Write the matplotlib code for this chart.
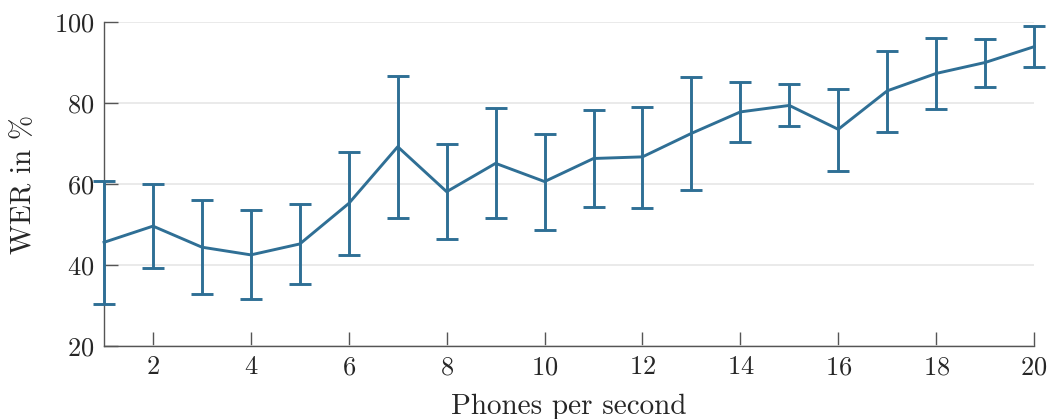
import matplotlib
matplotlib.use("Agg")
import numpy as np
import matplotlib.pyplot as plt

plt.rcParams["font.family"] = ["cmr10", "DejaVu Serif"]
plt.rcParams["axes.formatter.use_mathtext"] = True

# WER (%) per phone rate, with lower/upper ends of the error bars
phones = [1, 2, 3, 4, 5, 6, 7, 8, 9, 10, 11, 12, 13, 14, 15, 16, 17, 18, 19, 20]
wer_mean = [45.6, 49.6, 44.4, 42.5, 45.2, 55.2, 69.2, 58.1, 65.1, 60.6,
            66.3, 66.7, 72.5, 77.8, 79.4, 73.5, 83.0, 87.3, 90.0, 93.9]
wer_low = [30.4, 39.3, 32.8, 31.5, 35.3, 42.4, 51.6, 46.3, 51.6, 48.7,
           54.4, 54.1, 58.4, 70.4, 74.2, 63.2, 72.8, 78.4, 84.0, 88.8]
wer_high = [60.8, 60.1, 56.0, 53.7, 55.0, 67.9, 86.7, 69.8, 78.8, 72.3,
            78.3, 79.1, 86.5, 85.1, 84.7, 83.5, 92.8, 96.0, 95.7, 99.0]
xticks = [2, 4, 6, 8, 10, 12, 14, 16, 18, 20]
yticks = [20, 40, 60, 80, 100]

color = "#2f6f95"
text_c = "#262626"
axis_c = "#555555"

mean = np.array(wer_mean)
yerr = [mean - np.array(wer_low), np.array(wer_high) - mean]

fig = plt.figure(figsize=(10.53, 4.19), dpi=100)
ax = fig.add_axes([0.0988, 0.1742, 0.8832, 0.7733])

eb = ax.errorbar(phones, mean, yerr=yerr, color=color, lw=2.1, elinewidth=2.1,
                 capsize=8, capthick=2.1, zorder=5)
eb.lines[0].set_clip_on(False)
for art in eb.lines[1]:
    art.set_clip_on(False)
for c in eb.lines[2]:
    c.set_clip_on(False)

ax.set_xlim(1, 20)
ax.set_ylim(20, 100)
ax.set_xticks(xticks)
ax.set_yticks(yticks)
ax.yaxis.grid(True, color="#e6e6e6", lw=1.2)
ax.set_axisbelow(True)

for s in ("top", "right"):
    ax.spines[s].set_visible(False)
for s in ("left", "bottom"):
    ax.spines[s].set_color(axis_c)
    ax.spines[s].set_linewidth(1.0)
    ax.spines[s].set_zorder(1)
ax.tick_params(direction="in", length=10, width=1.0, color=axis_c,
               labelsize=19, labelcolor=text_c, pad=7)

ax.set_xlabel("Phones per second", fontsize=21, color=text_c, labelpad=10)
ax.set_ylabel("WER in %", fontsize=21, color=text_c, labelpad=12)

fig.savefig("out.png", dpi=100)
